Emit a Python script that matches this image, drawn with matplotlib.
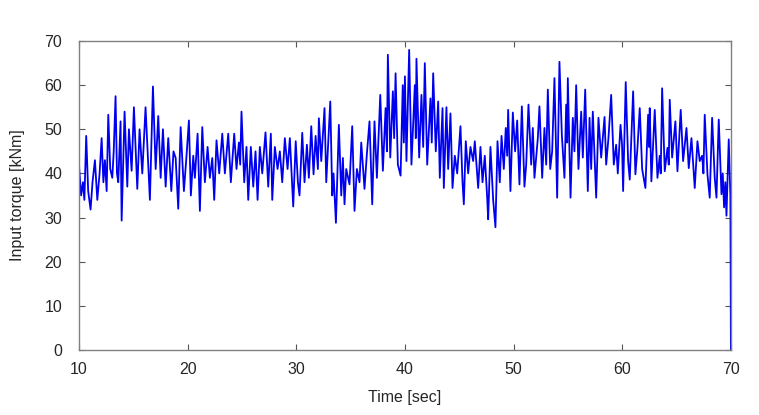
import numpy as np
import matplotlib
matplotlib.use("Agg")
import matplotlib.pyplot as plt

# turning points (time in s, torque in kNm)
time_s = [
    10.00, 10.20, 10.37, 10.50, 10.67, 10.85, 11.07, 11.25, 11.47, 11.69,
    11.90, 12.09, 12.25, 12.39, 12.55, 12.70, 12.88, 13.07, 13.20, 13.37,
    13.50, 13.62, 13.83, 13.93, 14.20, 14.45, 14.60, 14.85, 15.06, 15.37,
    15.58, 15.83, 16.13, 16.53, 16.81, 17.06, 17.30, 17.52, 17.73, 17.98,
    18.22, 18.50, 18.70, 18.90, 19.14, 19.36, 19.66, 19.90, 20.12, 20.30,
    20.52, 20.67, 20.92, 21.13, 21.35, 21.59, 21.84, 22.05, 22.27, 22.45,
    22.66, 22.91, 23.19, 23.43, 23.74, 23.98, 24.29, 24.50, 24.72, 24.84,
    24.96, 25.21, 25.42, 25.58, 25.82, 26.04, 26.25, 26.44, 26.65, 26.87,
    27.17, 27.42, 27.66, 27.79, 28.03, 28.28, 28.49, 28.71, 28.95, 29.20,
    29.41, 29.72, 29.95, 30.15, 30.30, 30.55, 30.76, 30.98, 31.16, 31.38,
    31.59, 31.78, 31.99, 32.08, 32.30, 32.60, 32.76, 33.13, 33.31, 33.43,
    33.65, 33.92, 34.14, 34.29, 34.44, 34.60, 34.90, 35.15, 35.36, 35.58,
    35.82, 35.98, 36.28, 36.50, 36.74, 36.99, 37.20, 37.42, 37.73, 37.97,
    38.22, 38.34, 38.43, 38.65, 38.89, 39.01, 39.14, 39.35, 39.60, 39.80,
    39.90, 40.00, 40.14, 40.39, 40.60, 40.91, 41.00, 41.06, 41.31, 41.52,
    41.68, 41.83, 42.05, 42.35, 42.47, 42.60, 42.84, 43.06, 43.21, 43.46,
    43.58, 43.82, 43.98, 44.19, 44.38, 44.59, 44.81, 45.11, 45.30, 45.42,
    45.60, 45.82, 46.03, 46.28, 46.43, 46.74, 46.95, 47.14, 47.35, 47.57,
    47.66, 47.87, 48.12, 48.33, 48.52, 48.73, 48.89, 49.10, 49.28, 49.41,
    49.50, 49.71, 49.93, 50.14, 50.33, 50.54, 50.76, 51.00, 51.16, 51.37,
    51.62, 51.77, 51.92, 52.23, 52.38, 52.63, 52.84, 53.00, 53.15, 53.37,
    53.55, 53.76, 54.01, 54.22, 54.44, 54.68, 54.84, 54.93, 54.99, 55.24,
    55.45, 55.60, 55.76, 55.97, 56.22, 56.37, 56.59, 56.83, 56.99, 57.14,
    57.29, 57.60, 57.81, 58.06, 58.37, 58.52, 58.73, 58.98, 59.22, 59.44,
    59.59, 59.84, 59.98, 60.08, 60.32, 60.54, 60.69, 61.00, 61.21, 61.40,
    61.61, 61.83, 62.13, 62.38, 62.47, 62.53, 62.68, 62.99, 63.24, 63.45,
    63.54, 63.67, 63.91, 64.16, 64.28, 64.37, 64.59, 64.89, 65.08, 65.38,
    65.60, 65.91, 66.12, 66.37, 66.67, 66.92, 67.13, 67.35, 67.47, 67.59,
    67.84, 68.05, 68.27, 68.51, 68.67, 68.88, 69.13, 69.25, 69.37, 69.49,
    69.59, 69.80, 69.95, 70.00,
]
torque_knm = [
    42.0, 35.0, 38.0, 34.0, 48.5, 36.0, 31.8, 38.0, 43.0, 34.0,
    40.0, 48.0, 38.0, 43.0, 36.0, 53.3, 41.0, 39.0, 45.0, 57.5,
    40.0, 38.0, 51.8, 29.3, 54.0, 37.0, 50.0, 40.6, 55.0, 36.5,
    50.0, 40.0, 55.0, 34.0, 59.7, 41.0, 53.0, 39.0, 50.0, 37.0,
    48.0, 36.0, 45.0, 43.5, 32.0, 50.5, 36.0, 44.0, 52.0, 35.0,
    44.0, 39.0, 49.0, 31.5, 50.5, 38.0, 46.0, 39.0, 43.5, 34.0,
    47.5, 40.0, 49.0, 40.0, 49.0, 38.0, 49.0, 41.0, 47.0, 42.0,
    54.0, 38.0, 46.0, 34.0, 46.0, 37.0, 45.0, 34.0, 46.0, 40.0,
    49.3, 37.0, 49.0, 34.0, 46.0, 41.0, 45.0, 38.0, 48.0, 41.0,
    48.0, 32.5, 47.3, 38.0, 35.0, 49.2, 38.0, 46.5, 39.0, 50.7,
    39.8, 48.5, 41.0, 52.5, 42.8, 54.8, 38.0, 56.3, 35.0, 40.0,
    28.8, 51.0, 35.0, 43.5, 33.0, 41.0, 37.5, 50.7, 31.5, 41.0,
    38.0, 47.0, 36.5, 44.5, 51.8, 33.0, 51.8, 39.0, 57.8, 40.6,
    54.8, 45.0, 66.9, 43.6, 58.6, 48.0, 62.7, 42.0, 39.5, 60.0,
    47.0, 62.0, 42.8, 68.0, 42.0, 60.0, 48.0, 66.0, 43.6, 57.8,
    46.0, 65.0, 42.0, 57.0, 47.0, 62.7, 45.0, 56.3, 39.0, 54.8,
    36.7, 55.0, 41.0, 53.6, 36.7, 44.0, 40.0, 50.7, 38.0, 33.0,
    47.3, 40.0, 46.0, 42.8, 47.3, 36.7, 46.0, 38.0, 44.0, 34.5,
    29.6, 46.0, 34.0, 27.8, 47.3, 38.0, 48.5, 41.0, 50.3, 44.0,
    54.4, 36.0, 53.8, 45.0, 52.0, 37.5, 55.2, 37.0, 42.0, 55.6,
    42.0, 50.3, 39.0, 48.0, 55.2, 39.0, 50.3, 42.0, 59.0, 41.0,
    45.0, 61.6, 34.5, 65.3, 48.8, 39.0, 55.6, 47.0, 61.6, 34.5,
    52.6, 45.0, 60.0, 41.0, 54.0, 43.6, 59.0, 36.0, 52.6, 41.0,
    54.0, 34.5, 52.6, 43.6, 52.8, 42.0, 48.0, 57.8, 42.0, 46.5,
    40.0, 51.0, 46.6, 36.0, 60.7, 42.8, 38.6, 58.6, 39.8, 45.8,
    54.8, 41.0, 36.7, 53.3, 46.0, 54.8, 38.2, 54.4, 39.0, 44.0,
    40.0, 59.3, 40.5, 45.8, 42.0, 56.7, 43.6, 51.8, 40.5, 54.4,
    42.8, 50.3, 41.2, 48.0, 36.7, 47.3, 42.8, 44.0, 40.0, 53.3,
    39.8, 34.5, 52.6, 39.0, 34.5, 52.2, 35.3, 40.0, 32.3, 38.0,
    30.4, 47.7, 35.0, 0.0,
]

x_ticks = [10, 20, 30, 40, 50, 60, 70]
y_ticks = [0, 10, 20, 30, 40, 50, 60, 70]

plt.rcParams['font.family'] = ['Liberation Sans', 'DejaVu Sans']

fig = plt.figure(figsize=(7.59, 4.15), dpi=100)
ax = fig.add_axes([0.104, 0.157, 0.859, 0.744])

ax.plot(time_s, torque_knm, color='#0000f0', linewidth=1.3)

ax.set_xlim(10, 70)
ax.set_ylim(0, 70)
ax.set_xticks(x_ticks)
ax.set_yticks(y_ticks)

# matlab-ish box with inward ticks on all sides
for side in ax.spines.values():
    side.set_color('#808080')
    side.set_linewidth(1.0)
ax.tick_params(direction='in', length=4, width=0.8, color='#555555',
               top=True, right=True, labelsize=11.5, labelcolor='#262626')
ax.tick_params(axis='x', pad=9)
ax.tick_params(axis='y', pad=12)

ax.set_xlabel('Time [sec]', fontsize=11.5, color='#262626', labelpad=9)
ax.set_ylabel('Input torque [kNm]', fontsize=11.5, color='#262626', labelpad=14)

fig.savefig('out.png', dpi=100)
